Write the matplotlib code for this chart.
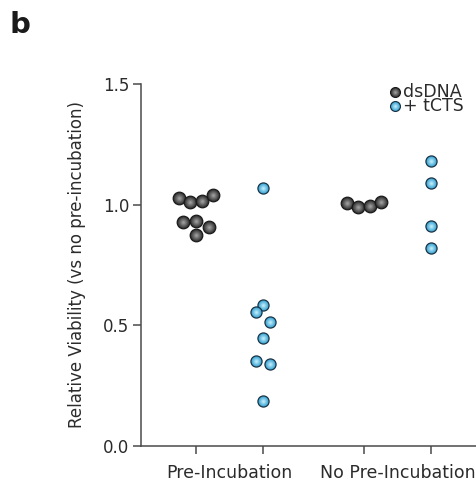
import matplotlib
matplotlib.use('Agg')
import matplotlib.pyplot as plt
import numpy as np
from matplotlib.colors import to_rgb

# --- data -----------------------------------------------------------
groups = ['Pre-Incubation', 'No Pre-Incubation']
series = ['dsDNA', '+ tCTS']

pre_dsdna = [1.029, 1.010, 1.016, 1.041, 0.928, 0.934, 0.907, 0.876]
pre_dsdna_dx = [-0.101, -0.033, 0.034, 0.101, -0.079, 0.0, 0.077, 0.0]
pre_tcts = [1.070, 0.583, 0.555, 0.514, 0.449, 0.352, 0.339, 0.185]
pre_tcts_dx = [0.0, 0.0, -0.042, 0.040, 0.0, -0.042, 0.040, 0.0]

nopre_dsdna = [1.008, 0.992, 0.994, 1.010]
nopre_dsdna_dx = [-0.101, -0.034, 0.034, 0.101]
nopre_tcts = [1.181, 1.091, 0.912, 0.822]
nopre_tcts_dx = [0.0, 0.0, 0.0, 0.0]

# (rim colour, centre colour, edge colour)
styles = {
    'dsDNA': ('#383838', '#9c9c9c', '#1a1a1a'),
    '+ tCTS': ('#3ea6d4', '#bdeafa', '#1a3344'),
}

TEXT = '#2b2b2b'
AXC = '#4a4a4a'
plt.rcParams['font.family'] = ['DejaVu Sans']

fig = plt.figure(figsize=(4.77, 4.92), dpi=100)
ax = fig.add_axes([141 / 477, 46 / 492, 336 / 477, 362 / 492])


def sphere(ax, x, y, size, style, z, transform=None):
    rim, centre, edge = (np.array(to_rgb(c)) for c in style)
    kw = dict(clip_on=False)
    if transform is not None:
        kw['transform'] = transform
    ax.scatter([x], [y], s=size, color=rim, edgecolors=edge, linewidths=0.9,
               zorder=z, **kw)
    n = 8
    for k in range(1, n + 1):
        f = k / n
        c = rim * (1 - f) + centre * f
        r = 0.92 * (1 - f * 0.85)
        ax.scatter([x], [y], s=size * r ** 2, color=c, linewidths=0,
                   zorder=z + k * 0.01, **kw)


def draw(vals, dxs, xc, name, size, z0):
    for i, (v, dx) in enumerate(zip(vals, dxs)):
        sphere(ax, xc + dx, v, size, styles[name], z0 + i)


group_x = [1, 2]
off = 0.2
draw(pre_dsdna, pre_dsdna_dx, group_x[0] - off, 'dsDNA', 82, 10)
draw(pre_tcts, pre_tcts_dx, group_x[0] + off, '+ tCTS', 64, 30)
draw(nopre_dsdna, nopre_dsdna_dx, group_x[1] - off, 'dsDNA', 82, 50)
draw(nopre_tcts, nopre_tcts_dx, group_x[1] + off, '+ tCTS', 64, 70)

ax.set_xlim(0.8 - 55 / 168, 0.8 + 281 / 168)
ax.set_ylim(0, 1.5)
ax.set_yticks([0, 0.5, 1.0, 1.5])
ax.set_yticklabels(['0.0', '0.5', '1.0', '1.5'])
ax.set_xticks([g + d for g in group_x for d in (-off, off)])
ax.set_xticklabels([])
for g, lab in zip(group_x, groups):
    ax.text(g, -0.11, lab, ha='center', va='center', fontsize=12.5, color=TEXT)

for s in ('top', 'right'):
    ax.spines[s].set_visible(False)
for s in ('left', 'bottom'):
    ax.spines[s].set_color(AXC)
    ax.spines[s].set_linewidth(1.1)
ax.tick_params(axis='both', colors=AXC, length=5.5, width=1.1, labelsize=12,
               labelcolor=TEXT, direction='out')
ax.tick_params(axis='y', pad=3)
ax.set_ylabel('Relative Viability (vs no pre-incubation)', fontsize=12,
              color=TEXT, labelpad=12)

# legend drawn by hand to match the tight row spacing
leg_y = [0.978, 0.939]
for name, yy in zip(series, leg_y):
    sphere(ax, 0.756, yy, 50, styles[name], 100, transform=ax.transAxes)
ax.text(0.780, sum(leg_y) / 2, '\n'.join(series), transform=ax.transAxes,
        ha='left', va='center', fontsize=12.5, color=TEXT, linespacing=0.72)

fig.text(0.02, 0.949, 'b', fontsize=21, fontweight='bold', color='#1a1a1a',
         va='center')

fig.savefig('out.png', dpi=100)
